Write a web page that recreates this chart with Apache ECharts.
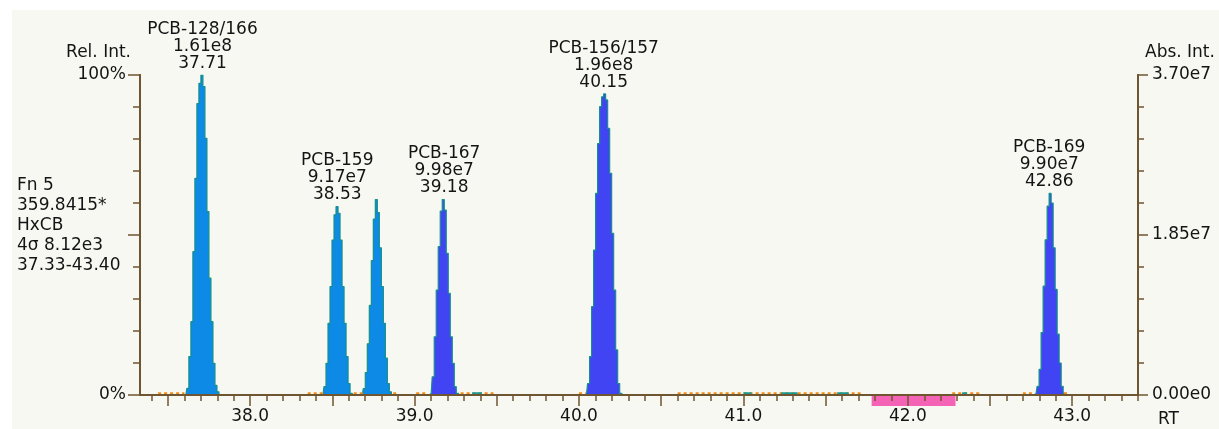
<!DOCTYPE html>
<html>
<head>
<meta charset="utf-8">
<title>HxCB Fn 5</title>
<script src="https://cdn.jsdelivr.net/npm/echarts@6/dist/echarts.min.js"></script>
<style>
html, body { margin: 0; padding: 0; background: #fff; }
#main { width: 1219px; height: 429px; }
</style>
</head>
<body>
<div id="main"></div>
<script>
// time between two scans (min)
var scanStep = 0.0122;

// RT of the first scan of each trace
var traceStart = [37.609, 38.443, 38.682, 39.089, 40.034, 42.768];

// relative intensity (%) per scan
var trace128 = [0, 2.1, 12.0, 22.9, 44.8, 67.7, 91.1, 97.4, 100, 96.4, 80.2, 57.3, 36.5, 22.9, 9.9, 3.0, 1.0, 0];
var trace159 = [0, 2.6, 9.9, 22.4, 33.9, 48.4, 56.3, 58.9, 56.8, 48.4, 33.9, 22.4, 12.0, 3.6, 0.5, 0];
var trace3877 = [0, 2.0, 7.0, 16.0, 28.0, 42.0, 55.0, 61.1, 57.0, 46.0, 33.9, 22.4, 11.5, 3.6, 1.0, 0];
var trace167 = [0, 0.5, 5.7, 18.2, 32.8, 46.4, 57.5, 61.1, 57.8, 44.3, 31.8, 18.2, 9.9, 2.6, 0.5, 0];
var trace156 = [0, 0.5, 3.6, 12.0, 27.6, 45.3, 63.0, 78.6, 90.1, 93.2, 94.1, 92.2, 83.3, 69.3, 50.5, 32.8, 14.1, 3.6, 0.5, 0];
var trace169 = [0, 0.5, 2.7, 8.0, 19.5, 34.0, 48.5, 59.0, 63.0, 60.0, 46.0, 33.0, 19.0, 10.0, 2.7, 0.5, 0];
var traces = [trace128, trace159, trace3877, trace167, trace156, trace169];

// peak annotations
var labelNames = ['PCB-128/166', 'PCB-159', 'PCB-167', 'PCB-156/157', 'PCB-169'];
var labelAreas = ['1.61e8', '9.17e7', '9.98e7', '1.96e8', '9.90e7'];
var labelRT = [37.71, 38.53, 39.18, 40.15, 42.86];
var labelTrace = [0, 1, 3, 4, 5];

// baseline marks
var noiseSegs = [[37.44, 37.60], [38.35, 38.45], [38.63, 38.69], [38.87, 38.90], [39.01, 39.08], [39.28, 39.48],
  [40.00, 40.04], [40.60, 41.72], [42.27, 42.44], [42.70, 42.76], [42.95, 42.98]];
var tealSegs = [[39.35, 39.41], [41.00, 41.05], [41.23, 41.33], [41.57, 41.64], [42.33, 42.36]];
var pinkBand = [[41.78, 42.29]];

// axes
var rtMin = 37.33, rtMax = 43.40;
var xLabelTicks = [38, 39, 40, 41, 42, 43];
var xMajorTicks = [37.5, 38, 38.5, 39, 39.5, 40, 40.5, 41, 41.5, 42, 42.5, 43];
var xMinorTicks = [];
for (var k = 374; k <= 434; k++) xMinorTicks.push(k / 10);
var relLabelTicks = [0, 100];
var relMajorTicks = [0, 50, 100];
var relMinorTicks = [0, 10, 20, 30, 40, 50, 60, 70, 80, 90, 100];
var absMax = 3.7e7;
var absMajorTicks = [0, 1.85e7, 3.7e7];
var absMinorTicks = [0, 3.7e6, 7.4e6, 1.11e7, 1.48e7, 1.85e7, 2.22e7, 2.59e7, 2.96e7, 3.33e7, 3.7e7];

var axisColor = '#6f5630';
var textColor = '#141414';
var fontName = 'DejaVu Sans';
var fills = ['#0c8ae6', '#0c8ae6', '#0c8ae6', '#4044f2', '#4044f2', '#4044f2'];

var myChart = echarts.init(document.getElementById('main'));

function xAxisOf(ticks, len, withLabels) {
  return {
    type: 'value', position: 'bottom', min: rtMin, max: rtMax, z: 5,
    axisLine: { show: true, onZero: false, lineStyle: { color: axisColor, width: 2 } },
    axisTick: { show: true, customValues: ticks, length: len, lineStyle: { color: axisColor, width: 1.5 } },
    axisLabel: {
      show: withLabels, customValues: xLabelTicks, margin: 13,
      color: textColor, fontFamily: fontName, fontSize: 17,
      formatter: function (v) { return v.toFixed(1); }
    },
    splitLine: { show: false }
  };
}

function yAxisOf(pos, max, ticks, len, labels, fmt) {
  return {
    type: 'value', position: pos, min: 0, max: max,
    axisLine: { show: true, lineStyle: { color: axisColor, width: 2 } },
    axisTick: { show: true, customValues: ticks, length: len, lineStyle: { color: axisColor, width: 1.5 } },
    axisLabel: {
      show: !!labels, customValues: labels || [], margin: 14,
      color: textColor, fontFamily: fontName, fontSize: 17, formatter: fmt
    },
    splitLine: { show: false }
  };
}

var series = [];
traces.forEach(function (tr, i) {
  var pts = tr.map(function (v, j) { return [traceStart[i] + j * scanStep, v]; });
  series.push({
    type: 'line', step: 'middle', data: pts, symbol: 'none', z: 2,
    lineStyle: { color: '#15908c', width: 1.2 },
    areaStyle: { color: fills[i], opacity: 1 }
  });
});

function segRender(color, dash) {
  return function (params, api) {
    var a = api.coord([api.value(0), 0]);
    var b = api.coord([api.value(1), 0]);
    return {
      type: 'line',
      shape: { x1: a[0], y1: a[1] - 1.5, x2: b[0], y2: b[1] - 1.5 },
      style: { stroke: color, lineWidth: 2.5, lineDash: dash }
    };
  };
}

series.push({
  type: 'custom', data: noiseSegs, z: 3, encode: { x: [0, 1] },
  renderItem: segRender('#f38a10', [3, 3])
});
series.push({
  type: 'custom', data: tealSegs, z: 4, encode: { x: [0, 1] },
  renderItem: segRender('#179a94', null)
});
series.push({
  type: 'custom', data: pinkBand, z: 1, encode: { x: [0, 1] },
  renderItem: function (params, api) {
    var a = api.coord([api.value(0), 0]);
    var b = api.coord([api.value(1), 0]);
    return {
      type: 'rect',
      shape: { x: a[0], y: a[1] + 1, width: b[0] - a[0], height: 10 },
      style: { fill: '#f563b6' }
    };
  }
});

series.push({
  type: 'scatter', symbolSize: 0, z: 6,
  itemStyle: { opacity: 1 },
  data: labelRT.map(function (rt, i) {
    return [rt, Math.max.apply(null, traces[labelTrace[i]])];
  }),
  label: {
    show: true, position: 'top', distance: 3, opacity: 1,
    color: textColor, fontFamily: fontName, fontSize: 17, lineHeight: 17,
    formatter: function (p) {
      var i = p.dataIndex;
      return labelNames[i] + '\n' + labelAreas[i] + '\n' + labelRT[i].toFixed(2);
    }
  }
});

var option = {
  animation: false,
  backgroundColor: '#ffffff',
  grid: { left: 140, right: 81, top: 75, bottom: 34 },
  xAxis: [
    xAxisOf(xMajorTicks, 11, true),
    xAxisOf(xMinorTicks, 6, false)
  ],
  yAxis: [
    yAxisOf('left', 100, relMajorTicks, 12, relLabelTicks, function (v) { return v + '%'; }),
    yAxisOf('left', 100, relMinorTicks, 7, null),
    yAxisOf('right', absMax, absMajorTicks, 10, absMajorTicks, function (v) {
      return v.toExponential(2).replace('e+', 'e');
    }),
    yAxisOf('right', absMax, absMinorTicks, 6, null)
  ],
  graphic: [
    { type: 'rect', z: -100, shape: { x: 12, y: 10, width: 1207, height: 419 }, style: { fill: '#f8f8f3' } },
    { type: 'text', x: 131, y: 53, style: { text: 'Rel. Int.', fill: textColor, font: '17px "DejaVu Sans"', textAlign: 'right', textVerticalAlign: 'middle' } },
    { type: 'text', x: 1145, y: 53, style: { text: 'Abs. Int.', fill: textColor, font: '17px "DejaVu Sans"', textAlign: 'left', textVerticalAlign: 'middle' } },
    { type: 'text', x: 1158, y: 420, style: { text: 'RT', fill: textColor, font: '17px "DejaVu Sans"', textAlign: 'left', textVerticalAlign: 'middle' } },
    { type: 'text', x: 17, y: 176, style: { text: 'Fn 5\n359.8415*\nHxCB\n4σ 8.12e3\n37.33-43.40', fill: textColor, font: '17px "DejaVu Sans"', lineHeight: 20, textAlign: 'left', textVerticalAlign: 'top' } }
  ],
  series: series
};

myChart.setOption(option);
</script>
</body>
</html>
